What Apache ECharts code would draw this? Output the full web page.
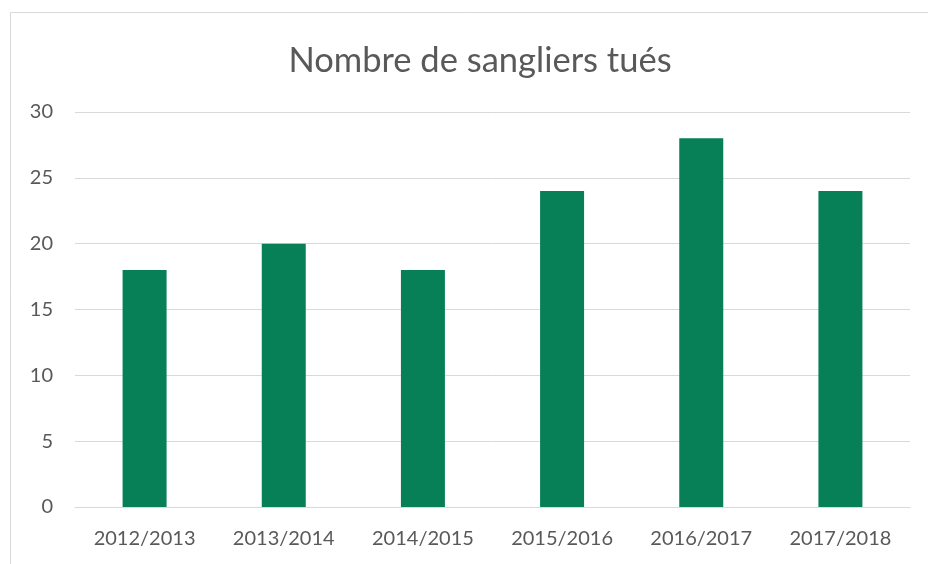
<!DOCTYPE html>
<html>
<head>
<meta charset="utf-8">
<script src="https://cdn.jsdelivr.net/npm/echarts@6/dist/echarts.min.js"></script>
<style>
  html, body { margin: 0; padding: 0; background: #fff; }
  #chart { width: 928px; height: 564px; }
</style>
</head>
<body>
<div id="chart"></div>
<script>
// Hunting seasons and wild boar tallies
const seasons = ['2012/2013', '2013/2014', '2014/2015', '2015/2016', '2016/2017', '2017/2018'];
const boarsKilled = [18, 20, 18, 24, 28, 24];
const titleText = 'Nombre de sangliers tués';

const textColor = '#595959';
const fontFamily = 'Lato, "Open Sans", sans-serif';

const chart = echarts.init(document.getElementById('chart'), null, { renderer: 'canvas' });
chart.setOption({
  animation: false,
  backgroundColor: '#fff',
  graphic: [{
    type: 'rect',
    shape: { x: 10.5, y: 12.5, width: 940, height: 600 },
    style: { fill: 'none', stroke: '#d9d9d9', lineWidth: 1 },
    z: -1
  }],
  title: {
    text: titleText,
    left: 475,
    top: 38,
    textAlign: 'center',
    textStyle: { color: textColor, fontSize: 34.5, fontWeight: 'normal', fontFamily }
  },
  grid: { left: 75, right: 18, top: 112, bottom: 57 },
  xAxis: {
    type: 'category',
    data: seasons,
    axisLine: { lineStyle: { color: '#d9d9d9', width: 1 } },
    axisTick: { show: false },
    axisLabel: { color: textColor, fontSize: 20, fontFamily, margin: 22 }
  },
  yAxis: {
    type: 'value',
    min: 0,
    max: 30,
    interval: 5,
    axisLine: { show: false },
    axisTick: { show: false },
    splitLine: { lineStyle: { color: '#d9d9d9', width: 1 } },
    axisLabel: { color: textColor, fontSize: 20, fontFamily, margin: 22 }
  },
  series: [{
    type: 'bar',
    data: boarsKilled,
    barWidth: 44,
    itemStyle: { color: '#077F57' }
  }]
});
</script>
</body>
</html>
